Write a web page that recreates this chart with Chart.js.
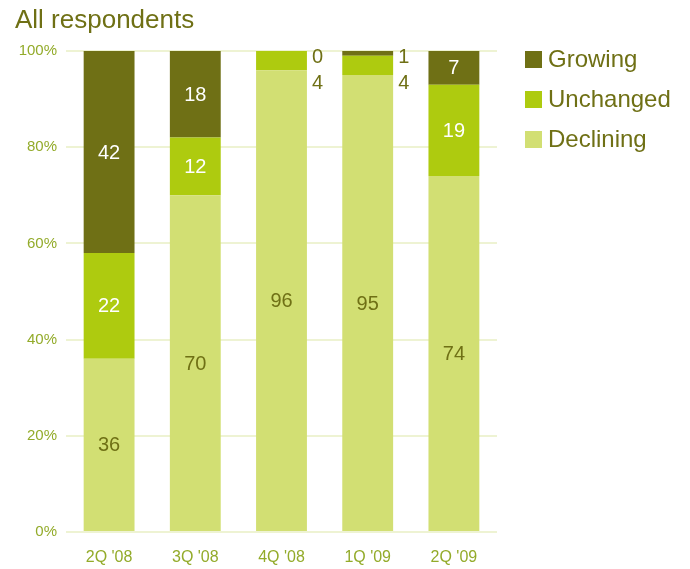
<!DOCTYPE html>
<html>
<head>
<meta charset="utf-8">
<script src="https://cdn.jsdelivr.net/npm/chart.js@4/dist/chart.umd.min.js"></script>
<style>
  html, body { margin:0; padding:0; background:#fff; }
  #wrap { width:690px; height:569px; position:relative; }
</style>
</head>
<body>
<div id="wrap"><canvas id="chart"></canvas></div>
<script>
// quarters and share of respondents (%) per answer
const quarters = ["2Q '08", "3Q '08", "4Q '08", "1Q '09", "2Q '09"];
const declining = [36, 70, 96, 95, 74];
const unchanged = [22, 12, 4, 4, 19];
const growing = [42, 18, 0, 1, 7];
const yTicks = [0, 20, 40, 60, 80, 100];

const FONT = 'Arial, "Liberation Sans", sans-serif';
const OLIVE = '#6f7015';
const TICK = '#93ab2a';

// title + legend drawn by hand so they sit where the original has them
const chrome = {
  id: 'chrome',
  afterDraw(chart){
    const ctx = chart.ctx;
    ctx.save();
    ctx.fillStyle = OLIVE;
    ctx.font = '26px ' + FONT;
    ctx.textAlign = 'left';
    ctx.textBaseline = 'alphabetic';
    ctx.fillText('All respondents', 15, 28);

    const items = chart.data.datasets.slice().reverse();
    ctx.font = '24px ' + FONT;
    ctx.textBaseline = 'middle';
    items.forEach((ds, i) => {
      const top = 51 + i*40;
      ctx.fillStyle = ds.backgroundColor;
      ctx.fillRect(525, top, 17, 17);
      ctx.fillStyle = OLIVE;
      ctx.fillText(ds.label, 548, top + 9);
    });
    ctx.restore();
  }
};

// numbers on the bars; tiny segments get their label to the right of the bar
const barLabels = {
  id: 'barLabels',
  afterDatasetsDraw(chart){
    const ctx = chart.ctx;
    const yScale = chart.scales.y;
    const top = yScale.getPixelForValue(100);
    ctx.save();
    ctx.font = '20px ' + FONT;
    ctx.textBaseline = 'middle';
    chart.data.datasets.forEach((ds, di) => {
      const meta = chart.getDatasetMeta(di);
      meta.data.forEach((bar, i) => {
        const v = ds.data[i];
        if(v >= 6){
          ctx.textAlign = 'center';
          ctx.fillStyle = ds.labelColor;
          ctx.fillText(String(v), bar.x, (bar.y + bar.base)/2 + 1);
        } else {
          ctx.textAlign = 'left';
          ctx.fillStyle = OLIVE;
          ctx.fillText(String(v), bar.x + bar.width/2 + 5, top + ds.outsideOffset);
        }
      });
    });
    ctx.restore();
  }
};

new Chart(document.getElementById('chart'), {
  type: 'bar',
  data: {
    labels: quarters,
    datasets: [
      { label: 'Declining', data: declining, backgroundColor: '#d2df73', labelColor: OLIVE, outsideOffset: 32 },
      { label: 'Unchanged', data: unchanged, backgroundColor: '#aecb0f', labelColor: '#ffffff', outsideOffset: 32 },
      { label: 'Growing', data: growing, backgroundColor: '#6f7015', labelColor: '#ffffff', outsideOffset: 6 }
    ]
  },
  options: {
    responsive: true,
    maintainAspectRatio: false,
    animation: false,
    categoryPercentage: 1,
    barPercentage: 0.59,
    layout: { padding: { top: 51, right: 193, bottom: 1, left: 0 } },
    plugins: {
      legend: { display: false },
      title: { display: false },
      tooltip: { enabled: false }
    },
    scales: {
      x: {
        stacked: true,
        afterFit(scale){ scale.height = 36; },
        grid: { display: false, drawTicks: false },
        border: { display: false },
        ticks: { color: TICK, font: { family: FONT, size: 16 }, padding: 16 }
      },
      y: {
        stacked: true,
        min: 0,
        max: 100,
        afterFit(scale){ scale.width = 66; },
        afterBuildTicks(scale){ scale.ticks = yTicks.map(v => ({ value: v })); },
        grid: { color: '#eef3d3', lineWidth: 2, drawTicks: false },
        border: { display: false },
        ticks: {
          color: TICK,
          font: { family: FONT, size: 15 },
          padding: 9,
          callback: v => v + '%'
        }
      }
    }
  },
  plugins: [chrome, barLabels]
});
</script>
</body>
</html>
